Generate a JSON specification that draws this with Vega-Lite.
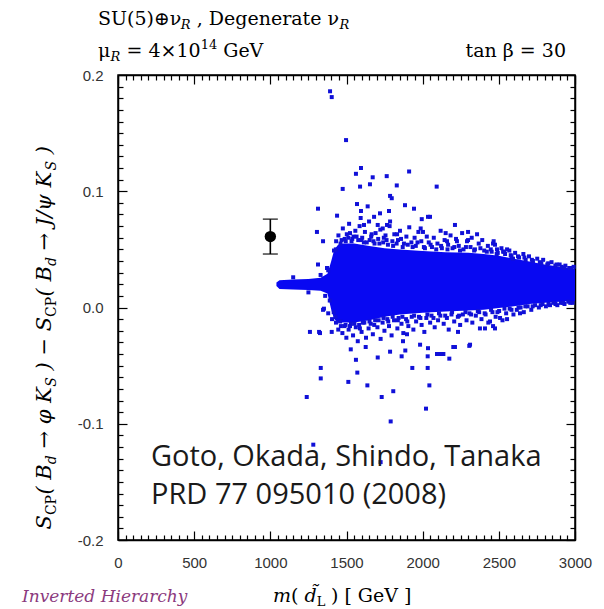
{
  "$schema": "https://vega.github.io/schema/vega-lite/v6.json",
  "width": 457,
  "height": 465,
  "autosize": {"type": "none"},
  "padding": {"left": 118, "top": 75, "right": 29, "bottom": 69},
  "background": "white",
  "config": {
    "view": {"stroke": "black", "strokeWidth": 1.5},
    "text": {"font": "DejaVu Serif", "fontSize": 19, "align": "left", "baseline": "alphabetic", "color": "black"}
  },
  "data": {"values": [{}]},
  "datasets": {
    "core": [
      {"m": 1040, "lo": 0.0185, "hi": 0.0215},
      {"m": 1060, "lo": 0.016, "hi": 0.0235},
      {"m": 1150, "lo": 0.0155, "hi": 0.024},
      {"m": 1250, "lo": 0.015, "hi": 0.0245},
      {"m": 1330, "lo": 0.0145, "hi": 0.0255},
      {"m": 1375, "lo": 0.012, "hi": 0.029},
      {"m": 1400, "lo": -0.002, "hi": 0.04},
      {"m": 1420, "lo": -0.01, "hi": 0.05},
      {"m": 1445, "lo": -0.013, "hi": 0.054},
      {"m": 1480, "lo": -0.013, "hi": 0.055},
      {"m": 1550, "lo": -0.013, "hi": 0.055},
      {"m": 1650, "lo": -0.011, "hi": 0.053},
      {"m": 1750, "lo": -0.008, "hi": 0.051},
      {"m": 1850, "lo": -0.006, "hi": 0.05},
      {"m": 2000, "lo": -0.0045, "hi": 0.0485},
      {"m": 2150, "lo": -0.0035, "hi": 0.0475},
      {"m": 2300, "lo": -0.0025, "hi": 0.047},
      {"m": 2400, "lo": -0.002, "hi": 0.046},
      {"m": 2500, "lo": -0.0005, "hi": 0.0445},
      {"m": 2600, "lo": 0.001, "hi": 0.042},
      {"m": 2700, "lo": 0.003, "hi": 0.0395},
      {"m": 2800, "lo": 0.004, "hi": 0.037},
      {"m": 2900, "lo": 0.005, "hi": 0.035},
      {"m": 3000, "lo": 0.0055, "hi": 0.033}
    ],
    "pts": [
      {"m": 1392, "s": 0.186}, {"m": 1403, "s": 0.181}, {"m": 1497, "s": 0.144}, {"m": 1562, "s": 0.115},
      {"m": 1595, "s": 0.12}, {"m": 1475, "s": 0.102}, {"m": 1589, "s": 0.104}, {"m": 1672, "s": 0.112},
      {"m": 1654, "s": 0.106}, {"m": 1764, "s": 0.113}, {"m": 1830, "s": 0.105}, {"m": 1911, "s": 0.117},
      {"m": 2092, "s": 0.104}, {"m": 1313, "s": 0.085}, {"m": 1438, "s": 0.079}, {"m": 1569, "s": 0.089},
      {"m": 1639, "s": 0.087}, {"m": 1786, "s": 0.096}, {"m": 1797, "s": 0.094}, {"m": 1595, "s": 0.083},
      {"m": 1593, "s": 0.077}, {"m": 1681, "s": 0.078}, {"m": 1720, "s": 0.081}, {"m": 1779, "s": 0.083},
      {"m": 1884, "s": 0.088}, {"m": 1943, "s": 0.085}, {"m": 2035, "s": 0.078}, {"m": 1994, "s": 0.076},
      {"m": 1615, "s": 0.071}, {"m": 1705, "s": 0.071}, {"m": 1738, "s": 0.068}, {"m": 1786, "s": 0.074},
      {"m": 1306, "s": 0.065}, {"m": 1523, "s": 0.064}, {"m": 1665, "s": 0.063}, {"m": 1987, "s": 0.068},
      {"m": 2151, "s": 0.064}, {"m": 2048, "s": 0.078}, {"m": 2212, "s": 0.071}, {"m": 2298, "s": 0.065},
      {"m": 2357, "s": 0.063}, {"m": 1766, "s": 0.071}, {"m": 1832, "s": 0.063}, {"m": 2002, "s": 0.065},
      {"m": 2160, "s": 0.057}, {"m": 2462, "s": 0.055}, {"m": 2488, "s": 0.05}, {"m": 2528, "s": 0.048},
      {"m": 2593, "s": 0.042}, {"m": 2225, "s": 0.057}, {"m": 2298, "s": 0.058}, {"m": 2475, "s": 0.054},
      {"m": 2554, "s": 0.05}, {"m": 1313, "s": 0.037}, {"m": 1372, "s": 0.034}, {"m": 1346, "s": 0.057},
      {"m": 1352, "s": -0.001}, {"m": 1260, "s": -0.021}, {"m": 1326, "s": -0.022}, {"m": 1403, "s": -0.021},
      {"m": 1528, "s": -0.036}, {"m": 1626, "s": -0.034}, {"m": 1786, "s": -0.038}, {"m": 1562, "s": -0.045},
      {"m": 1705, "s": -0.043}, {"m": 1862, "s": -0.042}, {"m": 1886, "s": -0.037}, {"m": 2033, "s": -0.042},
      {"m": 2136, "s": -0.04}, {"m": 2175, "s": -0.044}, {"m": 2201, "s": -0.034}, {"m": 2306, "s": -0.033},
      {"m": 1331, "s": -0.052}, {"m": 1331, "s": -0.061}, {"m": 1571, "s": -0.056}, {"m": 1512, "s": -0.064},
      {"m": 1637, "s": -0.067}, {"m": 1932, "s": -0.052}, {"m": 2033, "s": -0.052}, {"m": 2044, "s": -0.067},
      {"m": 1807, "s": -0.072}, {"m": 1731, "s": -0.077}, {"m": 1239, "s": -0.077}, {"m": 2022, "s": -0.087},
      {"m": 1790, "s": -0.098}, {"m": 1282, "s": -0.118}, {"m": 1724, "s": -0.133}, {"m": 1871, "s": -0.029},
      {"m": 2035, "s": -0.035}, {"m": 2114, "s": -0.04}, {"m": 2232, "s": -0.021}, {"m": 2376, "s": -0.018},
      {"m": 2462, "s": -0.016}, {"m": 2554, "s": -0.01}, {"m": 2639, "s": -0.005}, {"m": 2409, "s": -0.018},
      {"m": 2475, "s": -0.018}, {"m": 2442, "s": -0.012}, {"m": 2508, "s": -0.009}, {"m": 1897, "s": -0.023},
      {"m": 1983, "s": -0.032}, {"m": 2094, "s": -0.04}, {"m": 2212, "s": -0.034}, {"m": 2311, "s": -0.032},
      {"m": 1346, "s": -0.002}, {"m": 1380, "s": -0.005}, {"m": 1405, "s": -0.01}, {"m": 1320, "s": -0.021},
      {"m": 1150, "s": 0.026}, {"m": 1250, "s": 0.013}, {"m": 1330, "s": 0.028}, {"m": 1360, "s": 0.01},
      {"m": 1380, "s": 0.032}, {"m": 1390, "s": 0.006},
      {"m": 1418, "s": 0.049}, {"m": 1432, "s": 0.057}, {"m": 1447, "s": 0.062}, {"m": 1461, "s": 0.055},
      {"m": 1476, "s": 0.068}, {"m": 1488, "s": 0.059}, {"m": 1502, "s": 0.063}, {"m": 1517, "s": 0.072},
      {"m": 1533, "s": 0.057}, {"m": 1546, "s": 0.061}, {"m": 1558, "s": 0.066}, {"m": 1577, "s": 0.058},
      {"m": 1586, "s": 0.07}, {"m": 1603, "s": 0.06}, {"m": 1621, "s": 0.065}, {"m": 1633, "s": 0.056},
      {"m": 1648, "s": 0.074}, {"m": 1662, "s": 0.061}, {"m": 1677, "s": 0.057}, {"m": 1691, "s": 0.064},
      {"m": 1708, "s": 0.059}, {"m": 1722, "s": 0.067}, {"m": 1741, "s": 0.056}, {"m": 1756, "s": 0.062},
      {"m": 1763, "s": 0.058}, {"m": 1783, "s": 0.07}, {"m": 1801, "s": 0.057}, {"m": 1814, "s": 0.063},
      {"m": 1829, "s": 0.055}, {"m": 1851, "s": 0.066}, {"m": 1858, "s": 0.059}, {"m": 1877, "s": 0.055},
      {"m": 1893, "s": 0.061}, {"m": 1912, "s": 0.069}, {"m": 1926, "s": 0.056}, {"m": 1947, "s": 0.06},
      {"m": 1955, "s": 0.053}, {"m": 1972, "s": 0.065}, {"m": 1991, "s": 0.057}, {"m": 2008, "s": 0.052},
      {"m": 2027, "s": 0.061}, {"m": 2040, "s": 0.056}, {"m": 2061, "s": 0.052}, {"m": 2073, "s": 0.06},
      {"m": 2097, "s": 0.055}, {"m": 2118, "s": 0.066}, {"m": 2126, "s": 0.051}, {"m": 2144, "s": 0.058},
      {"m": 2167, "s": 0.054}, {"m": 2183, "s": 0.062}, {"m": 2196, "s": 0.051}, {"m": 2219, "s": 0.059},
      {"m": 2237, "s": 0.053}, {"m": 2259, "s": 0.064}, {"m": 2268, "s": 0.05}, {"m": 2291, "s": 0.057},
      {"m": 2314, "s": 0.052}, {"m": 2322, "s": 0.06}, {"m": 2343, "s": 0.05}, {"m": 2368, "s": 0.055},
      {"m": 2391, "s": 0.058}, {"m": 2404, "s": 0.049}, {"m": 2428, "s": 0.053}, {"m": 2453, "s": 0.048},
      {"m": 2466, "s": 0.057}, {"m": 2493, "s": 0.047}, {"m": 2517, "s": 0.051}, {"m": 2541, "s": 0.046},
      {"m": 2569, "s": 0.049}, {"m": 2583, "s": 0.044}, {"m": 2607, "s": 0.047}, {"m": 2633, "s": 0.043},
      {"m": 2661, "s": 0.046}, {"m": 2676, "s": 0.041}, {"m": 2698, "s": 0.044}, {"m": 2724, "s": 0.04},
      {"m": 2752, "s": 0.042}, {"m": 2779, "s": 0.038}, {"m": 2791, "s": 0.041}, {"m": 2818, "s": 0.037},
      {"m": 2846, "s": 0.039}, {"m": 2871, "s": 0.036}, {"m": 2899, "s": 0.037}, {"m": 2913, "s": 0.035},
      {"m": 2937, "s": 0.036}, {"m": 2962, "s": 0.034}, {"m": 2991, "s": 0.035},
      {"m": 1416, "s": -0.004}, {"m": 1431, "s": -0.013}, {"m": 1446, "s": -0.019}, {"m": 1458, "s": -0.012},
      {"m": 1473, "s": -0.022}, {"m": 1486, "s": -0.016}, {"m": 1499, "s": -0.026}, {"m": 1514, "s": -0.019},
      {"m": 1529, "s": -0.014}, {"m": 1543, "s": -0.024}, {"m": 1561, "s": -0.017}, {"m": 1574, "s": -0.029},
      {"m": 1583, "s": -0.015}, {"m": 1599, "s": -0.021}, {"m": 1617, "s": -0.013}, {"m": 1628, "s": -0.026},
      {"m": 1645, "s": -0.018}, {"m": 1659, "s": -0.014}, {"m": 1673, "s": -0.023}, {"m": 1688, "s": -0.011},
      {"m": 1703, "s": -0.017}, {"m": 1724, "s": -0.027}, {"m": 1737, "s": -0.013}, {"m": 1749, "s": -0.02},
      {"m": 1768, "s": -0.01}, {"m": 1779, "s": -0.016}, {"m": 1796, "s": -0.024}, {"m": 1812, "s": -0.011},
      {"m": 1834, "s": -0.018}, {"m": 1842, "s": -0.009}, {"m": 1861, "s": -0.014}, {"m": 1873, "s": -0.022},
      {"m": 1891, "s": -0.01}, {"m": 1906, "s": -0.016}, {"m": 1928, "s": -0.008}, {"m": 1939, "s": -0.019},
      {"m": 1957, "s": -0.012}, {"m": 1976, "s": -0.008}, {"m": 1993, "s": -0.015}, {"m": 2011, "s": -0.021},
      {"m": 2024, "s": -0.009}, {"m": 2049, "s": -0.013}, {"m": 2058, "s": -0.007}, {"m": 2079, "s": -0.017},
      {"m": 2101, "s": -0.011}, {"m": 2116, "s": -0.007}, {"m": 2138, "s": -0.014}, {"m": 2159, "s": -0.009},
      {"m": 2171, "s": -0.019}, {"m": 2189, "s": -0.006}, {"m": 2207, "s": -0.012}, {"m": 2231, "s": -0.008},
      {"m": 2246, "s": -0.015}, {"m": 2264, "s": -0.006}, {"m": 2288, "s": -0.011}, {"m": 2307, "s": -0.005},
      {"m": 2326, "s": -0.013}, {"m": 2349, "s": -0.007}, {"m": 2371, "s": -0.004}, {"m": 2386, "s": -0.01},
      {"m": 2413, "s": -0.006}, {"m": 2431, "s": -0.013}, {"m": 2458, "s": -0.004}, {"m": 2479, "s": -0.008},
      {"m": 2502, "s": -0.003}, {"m": 2524, "s": -0.011}, {"m": 2548, "s": -0.005}, {"m": 2571, "s": -0.001},
      {"m": 2596, "s": -0.006}, {"m": 2618, "s": -0.002}, {"m": 2643, "s": 0.0}, {"m": 2664, "s": -0.004},
      {"m": 2689, "s": 0.001}, {"m": 2713, "s": -0.002}, {"m": 2738, "s": 0.002}, {"m": 2763, "s": 0.0},
      {"m": 2787, "s": 0.003}, {"m": 2809, "s": 0.001}, {"m": 2836, "s": 0.002}, {"m": 2858, "s": 0.004},
      {"m": 2884, "s": 0.002}, {"m": 2907, "s": 0.004}, {"m": 2931, "s": 0.003}, {"m": 2956, "s": 0.005},
      {"m": 2984, "s": 0.004},
      {"m": 1430, "s": 0.05}, {"m": 1468, "s": 0.058}, {"m": 1495, "s": 0.057}, {"m": 1512, "s": 0.06},
      {"m": 1538, "s": 0.059}, {"m": 1566, "s": 0.061}, {"m": 1597, "s": 0.058}, {"m": 1614, "s": 0.056},
      {"m": 1652, "s": 0.058}, {"m": 1684, "s": 0.055}, {"m": 1716, "s": 0.055}, {"m": 1745, "s": 0.06},
      {"m": 1772, "s": 0.054}, {"m": 1806, "s": 0.053}, {"m": 1838, "s": 0.058}, {"m": 1869, "s": 0.052},
      {"m": 1902, "s": 0.054}, {"m": 1934, "s": 0.052}, {"m": 1966, "s": 0.056}, {"m": 2015, "s": 0.051},
      {"m": 2052, "s": 0.054}, {"m": 2089, "s": 0.05}, {"m": 2121, "s": 0.053}, {"m": 2163, "s": 0.05},
      {"m": 2208, "s": 0.052}, {"m": 2245, "s": 0.049}, {"m": 2284, "s": 0.052}, {"m": 2338, "s": 0.049},
      {"m": 2379, "s": 0.051}, {"m": 2421, "s": 0.048}, {"m": 2447, "s": 0.05}, {"m": 2486, "s": 0.046},
      {"m": 2535, "s": 0.048}, {"m": 2578, "s": 0.045}, {"m": 2626, "s": 0.044}, {"m": 2668, "s": 0.043},
      {"m": 2717, "s": 0.041}, {"m": 2769, "s": 0.039}, {"m": 2824, "s": 0.038}, {"m": 2879, "s": 0.037},
      {"m": 2928, "s": 0.034}, {"m": 2975, "s": 0.034},
      {"m": 1428, "s": -0.008}, {"m": 1463, "s": -0.016}, {"m": 1494, "s": -0.015}, {"m": 1523, "s": -0.016},
      {"m": 1552, "s": -0.014}, {"m": 1588, "s": -0.018}, {"m": 1607, "s": -0.013}, {"m": 1651, "s": -0.012},
      {"m": 1682, "s": -0.015}, {"m": 1711, "s": -0.011}, {"m": 1743, "s": -0.009}, {"m": 1774, "s": -0.012},
      {"m": 1803, "s": -0.008}, {"m": 1837, "s": -0.011}, {"m": 1867, "s": -0.008}, {"m": 1899, "s": -0.012},
      {"m": 1944, "s": -0.007}, {"m": 1985, "s": -0.009}, {"m": 2031, "s": -0.006}, {"m": 2071, "s": -0.009},
      {"m": 2107, "s": -0.005}, {"m": 2148, "s": -0.007}, {"m": 2193, "s": -0.004}, {"m": 2239, "s": -0.007},
      {"m": 2281, "s": -0.004}, {"m": 2318, "s": -0.006}, {"m": 2362, "s": -0.003}, {"m": 2407, "s": -0.005},
      {"m": 2449, "s": -0.002}, {"m": 2491, "s": -0.004}, {"m": 2537, "s": -0.001}, {"m": 2583, "s": -0.002},
      {"m": 2629, "s": 0.0}, {"m": 2674, "s": 0.001}, {"m": 2722, "s": 0.001}, {"m": 2775, "s": 0.002},
      {"m": 2826, "s": 0.003}, {"m": 2872, "s": 0.003}, {"m": 2921, "s": 0.004}, {"m": 2969, "s": 0.004}
    ],
    "obs": [{"m": 1000, "s": 0.061, "lo": 0.046, "hi": 0.076}]
  },
  "layer": [
    {
      "data": {"name": "core"},
      "mark": {"type": "area", "color": "#0808f2", "interpolate": "linear"},
      "encoding": {
        "x": {
          "field": "m", "type": "quantitative",
          "scale": {"domain": [0, 3000], "nice": false, "zero": false},
          "axis": {
            "orient": "bottom", "title": null, "grid": false, "format": "d",
            "values": [0,50,100,150,200,250,300,350,400,450,500,550,600,650,700,750,800,850,900,950,1000,1050,1100,1150,1200,1250,1300,1350,1400,1450,1500,1550,1600,1650,1700,1750,1800,1850,1900,1950,2000,2050,2100,2150,2200,2250,2300,2350,2400,2450,2500,2550,2600,2650,2700,2750,2800,2850,2900,2950,3000],
            "domainColor": "black", "domainWidth": 1.5,
            "tickColor": "black", "tickWidth": 1.2,
            "tickSize": {"condition": {"test": "datum.value % 500 === 0", "value": -9}, "value": -5},
            "labelExpr": "datum.value % 500 === 0 ? datum.label : ''",
            "labelPadding": 24, "labelFont": "Liberation Sans", "labelFontSize": 15,
            "labelColor": "#333333", "labelOverlap": false, "labelFlush": false
          }
        },
        "y": {
          "field": "lo", "type": "quantitative",
          "scale": {"domain": [-0.2, 0.2], "nice": false, "zero": false},
          "axis": {
            "orient": "left", "title": null, "grid": false, "format": ".1f",
            "values": [-0.2,-0.19,-0.18,-0.17,-0.16,-0.15,-0.14,-0.13,-0.12,-0.11,-0.1,-0.09,-0.08,-0.07,-0.06,-0.05,-0.04,-0.03,-0.02,-0.01,0,0.01,0.02,0.03,0.04,0.05,0.06,0.07,0.08,0.09,0.1,0.11,0.12,0.13,0.14,0.15,0.16,0.17,0.18,0.19,0.2],
            "domainColor": "black", "domainWidth": 1.5,
            "tickColor": "black", "tickWidth": 1.2,
            "tickSize": {"condition": {"test": "abs(round(datum.value * 100)) % 10 === 0", "value": -9}, "value": -5},
            "labelExpr": "abs(round(datum.value * 100)) % 10 === 0 ? replace(format(datum.value, '.1f'), '\u2212', '-') : ''",
            "labelPadding": 24, "labelFont": "Liberation Sans", "labelFontSize": 15,
            "labelColor": "#333333", "labelOverlap": false
          }
        },
        "y2": {"field": "hi"}
      }
    },
    {
      "data": {"name": "pts"},
      "mark": {"type": "square", "size": 16, "color": "#1010d8", "opacity": 1},
      "encoding": {
        "x": {"field": "m", "type": "quantitative", "scale": {"domain": [0, 3000], "nice": false, "zero": false}, "axis": null},
        "y": {"field": "s", "type": "quantitative", "scale": {"domain": [-0.2, 0.2], "nice": false, "zero": false}, "axis": null}
      }
    },
    {
      "data": {"name": "obs"},
      "mark": {"type": "rule", "color": "black", "strokeWidth": 1.6},
      "encoding": {
        "x": {
          "field": "m", "type": "quantitative",
          "scale": {"domain": [0, 3000], "nice": false, "zero": false},
          "axis": {
            "orient": "top", "title": null, "grid": false, "labels": false,
            "values": [0,50,100,150,200,250,300,350,400,450,500,550,600,650,700,750,800,850,900,950,1000,1050,1100,1150,1200,1250,1300,1350,1400,1450,1500,1550,1600,1650,1700,1750,1800,1850,1900,1950,2000,2050,2100,2150,2200,2250,2300,2350,2400,2450,2500,2550,2600,2650,2700,2750,2800,2850,2900,2950,3000],
            "domainColor": "black", "domainWidth": 1.5,
            "tickColor": "black", "tickWidth": 1.2,
            "tickSize": {"condition": {"test": "datum.value % 500 === 0", "value": -9}, "value": -5}
          }
        },
        "y": {
          "field": "lo", "type": "quantitative",
          "scale": {"domain": [-0.2, 0.2], "nice": false, "zero": false},
          "axis": {
            "orient": "right", "title": null, "grid": false, "labels": false,
            "values": [-0.2,-0.19,-0.18,-0.17,-0.16,-0.15,-0.14,-0.13,-0.12,-0.11,-0.1,-0.09,-0.08,-0.07,-0.06,-0.05,-0.04,-0.03,-0.02,-0.01,0,0.01,0.02,0.03,0.04,0.05,0.06,0.07,0.08,0.09,0.1,0.11,0.12,0.13,0.14,0.15,0.16,0.17,0.18,0.19,0.2],
            "domainColor": "black", "domainWidth": 1.5,
            "tickColor": "black", "tickWidth": 1.2,
            "tickSize": {"condition": {"test": "abs(round(datum.value * 100)) % 10 === 0", "value": -9}, "value": -5}
          }
        },
        "y2": {"field": "hi"}
      }
    },
    {
      "data": {"name": "obs"},
      "mark": {"type": "tick", "orient": "horizontal", "color": "black", "size": 15, "thickness": 1.6},
      "encoding": {
        "x": {"field": "m", "type": "quantitative", "scale": {"domain": [0, 3000], "nice": false, "zero": false}, "axis": null},
        "y": {"field": "lo", "type": "quantitative", "scale": {"domain": [-0.2, 0.2], "nice": false, "zero": false}, "axis": null}
      }
    },
    {
      "data": {"name": "obs"},
      "mark": {"type": "tick", "orient": "horizontal", "color": "black", "size": 15, "thickness": 1.6},
      "encoding": {
        "x": {"field": "m", "type": "quantitative", "scale": {"domain": [0, 3000], "nice": false, "zero": false}, "axis": null},
        "y": {"field": "hi", "type": "quantitative", "scale": {"domain": [-0.2, 0.2], "nice": false, "zero": false}, "axis": null}
      }
    },
    {
      "data": {"name": "obs"},
      "mark": {"type": "circle", "color": "black", "size": 130, "opacity": 1},
      "encoding": {
        "x": {"field": "m", "type": "quantitative", "scale": {"domain": [0, 3000], "nice": false, "zero": false}, "axis": null},
        "y": {"field": "s", "type": "quantitative", "scale": {"domain": [-0.2, 0.2], "nice": false, "zero": false}, "axis": null}
      }
    },
    {
      "mark": {"type": "text", "font": "Open Sans", "fontSize": 29, "color": "#1a1a1a"},
      "encoding": {
        "x": {"datum": 216.6, "type": "quantitative", "scale": {"domain": [0, 3000], "nice": false, "zero": false}, "axis": null},
        "y": {"datum": -0.13677, "type": "quantitative", "scale": {"domain": [-0.2, 0.2], "nice": false, "zero": false}, "axis": null},
        "text": {"value": "Goto, Okada, Shindo, Tanaka"}
      }
    },
    {
      "mark": {"type": "text", "font": "Open Sans", "fontSize": 29, "color": "#1a1a1a"},
      "encoding": {
        "x": {"datum": 216.6, "type": "quantitative", "scale": {"domain": [0, 3000], "nice": false, "zero": false}, "axis": null},
        "y": {"datum": -0.16946, "type": "quantitative", "scale": {"domain": [-0.2, 0.2], "nice": false, "zero": false}, "axis": null},
        "text": {"value": "PRD 77 095010 (2008)"}
      }
    },
    {
      "mark": {"type": "text"},
      "encoding": {
        "x": {"datum": -131.3, "type": "quantitative", "scale": {"domain": [0, 3000], "nice": false, "zero": false}, "axis": null},
        "y": {"datum": 0.24344, "type": "quantitative", "scale": {"domain": [-0.2, 0.2], "nice": false, "zero": false}, "axis": null},
        "text": {"value": "SU(5)⊕ν"}
      }
    },
    {
      "mark": {"type": "text", "fontSize": 13, "fontStyle": "italic", "dy": 4},
      "encoding": {
        "x": {"datum": 411.6, "type": "quantitative", "scale": {"domain": [0, 3000], "nice": false, "zero": false}, "axis": null},
        "y": {"datum": 0.24344, "type": "quantitative", "scale": {"domain": [-0.2, 0.2], "nice": false, "zero": false}, "axis": null},
        "text": {"value": "R"}
      }
    },
    {
      "mark": {"type": "text"},
      "encoding": {
        "x": {"datum": 516.7, "type": "quantitative", "scale": {"domain": [0, 3000], "nice": false, "zero": false}, "axis": null},
        "y": {"datum": 0.24344, "type": "quantitative", "scale": {"domain": [-0.2, 0.2], "nice": false, "zero": false}, "axis": null},
        "text": {"value": ", Degenerate ν"}
      }
    },
    {
      "mark": {"type": "text", "fontSize": 13, "fontStyle": "italic", "dy": 4},
      "encoding": {
        "x": {"datum": 1453.5, "type": "quantitative", "scale": {"domain": [0, 3000], "nice": false, "zero": false}, "axis": null},
        "y": {"datum": 0.24344, "type": "quantitative", "scale": {"domain": [-0.2, 0.2], "nice": false, "zero": false}, "axis": null},
        "text": {"value": "R"}
      }
    },
    {
      "mark": {"type": "text"},
      "encoding": {
        "x": {"datum": -131.3, "type": "quantitative", "scale": {"domain": [0, 3000], "nice": false, "zero": false}, "axis": null},
        "y": {"datum": 0.21591, "type": "quantitative", "scale": {"domain": [-0.2, 0.2], "nice": false, "zero": false}, "axis": null},
        "text": {"value": "μ"}
      }
    },
    {
      "mark": {"type": "text", "fontSize": 13, "fontStyle": "italic", "dy": 4},
      "encoding": {
        "x": {"datum": -49.2, "type": "quantitative", "scale": {"domain": [0, 3000], "nice": false, "zero": false}, "axis": null},
        "y": {"datum": 0.21591, "type": "quantitative", "scale": {"domain": [-0.2, 0.2], "nice": false, "zero": false}, "axis": null},
        "text": {"value": "R"}
      }
    },
    {
      "mark": {"type": "text"},
      "encoding": {
        "x": {"datum": 55.8, "type": "quantitative", "scale": {"domain": [0, 3000], "nice": false, "zero": false}, "axis": null},
        "y": {"datum": 0.21591, "type": "quantitative", "scale": {"domain": [-0.2, 0.2], "nice": false, "zero": false}, "axis": null},
        "text": {"value": "= 4×10"}
      }
    },
    {
      "mark": {"type": "text", "fontSize": 13, "dy": -8},
      "encoding": {
        "x": {"datum": 543, "type": "quantitative", "scale": {"domain": [0, 3000], "nice": false, "zero": false}, "axis": null},
        "y": {"datum": 0.21591, "type": "quantitative", "scale": {"domain": [-0.2, 0.2], "nice": false, "zero": false}, "axis": null},
        "text": {"value": "14"}
      }
    },
    {
      "mark": {"type": "text"},
      "encoding": {
        "x": {"datum": 690.6, "type": "quantitative", "scale": {"domain": [0, 3000], "nice": false, "zero": false}, "axis": null},
        "y": {"datum": 0.21591, "type": "quantitative", "scale": {"domain": [-0.2, 0.2], "nice": false, "zero": false}, "axis": null},
        "text": {"value": "GeV"}
      }
    },
    {
      "mark": {"type": "text", "align": "right"},
      "encoding": {
        "x": {"datum": 2941, "type": "quantitative", "scale": {"domain": [0, 3000], "nice": false, "zero": false}, "axis": null},
        "y": {"datum": 0.21591, "type": "quantitative", "scale": {"domain": [-0.2, 0.2], "nice": false, "zero": false}, "axis": null},
        "text": {"value": "tan β = 30"}
      }
    },
    {
      "mark": {"type": "text", "fontStyle": "italic", "fontSize": 17, "color": "#8b3a7e"},
      "encoding": {
        "x": {"datum": -630.2, "type": "quantitative", "scale": {"domain": [0, 3000], "nice": false, "zero": false}, "axis": null},
        "y": {"datum": -0.25376, "type": "quantitative", "scale": {"domain": [-0.2, 0.2], "nice": false, "zero": false}, "axis": null},
        "text": {"value": "Inverted Hierarchy"}
      }
    },
    {
      "mark": {"type": "text", "fontStyle": "italic"},
      "encoding": {
        "x": {"datum": 1017.6, "type": "quantitative", "scale": {"domain": [0, 3000], "nice": false, "zero": false}, "axis": null},
        "y": {"datum": -0.25376, "type": "quantitative", "scale": {"domain": [-0.2, 0.2], "nice": false, "zero": false}, "axis": null},
        "text": {"value": "m"}
      }
    },
    {
      "mark": {"type": "text"},
      "encoding": {
        "x": {"datum": 1135.7, "type": "quantitative", "scale": {"domain": [0, 3000], "nice": false, "zero": false}, "axis": null},
        "y": {"datum": -0.25376, "type": "quantitative", "scale": {"domain": [-0.2, 0.2], "nice": false, "zero": false}, "axis": null},
        "text": {"value": "("}
      }
    },
    {
      "mark": {"type": "text", "fontStyle": "italic"},
      "encoding": {
        "x": {"datum": 1224.4, "type": "quantitative", "scale": {"domain": [0, 3000], "nice": false, "zero": false}, "axis": null},
        "y": {"datum": -0.25376, "type": "quantitative", "scale": {"domain": [-0.2, 0.2], "nice": false, "zero": false}, "axis": null},
        "text": {"value": "d\u0303"}
      }
    },
    {
      "mark": {"type": "text", "fontSize": 13, "dy": 4},
      "encoding": {
        "x": {"datum": 1304.5, "type": "quantitative", "scale": {"domain": [0, 3000], "nice": false, "zero": false}, "axis": null},
        "y": {"datum": -0.25376, "type": "quantitative", "scale": {"domain": [-0.2, 0.2], "nice": false, "zero": false}, "axis": null},
        "text": {"value": "L"}
      }
    },
    {
      "mark": {"type": "text"},
      "encoding": {
        "x": {"datum": 1398, "type": "quantitative", "scale": {"domain": [0, 3000], "nice": false, "zero": false}, "axis": null},
        "y": {"datum": -0.25376, "type": "quantitative", "scale": {"domain": [-0.2, 0.2], "nice": false, "zero": false}, "axis": null},
        "text": {"value": ") [ GeV ]"}
      }
    },
    {
      "mark": {"type": "text", "angle": 270, "fontStyle": "italic", "fontSize": 21},
      "encoding": {
        "x": {"datum": -440, "type": "quantitative", "scale": {"domain": [0, 3000], "nice": false, "zero": false}, "axis": null},
        "y": {"datum": -0.19097, "type": "quantitative", "scale": {"domain": [-0.2, 0.2], "nice": false, "zero": false}, "axis": null},
        "text": {"value": "S"}
      }
    },
    {
      "mark": {"type": "text", "angle": 270, "fontSize": 14, "dy": 5},
      "encoding": {
        "x": {"datum": -440, "type": "quantitative", "scale": {"domain": [0, 3000], "nice": false, "zero": false}, "axis": null},
        "y": {"datum": -0.17858, "type": "quantitative", "scale": {"domain": [-0.2, 0.2], "nice": false, "zero": false}, "axis": null},
        "text": {"value": "CP"}
      }
    },
    {
      "mark": {"type": "text", "angle": 270, "fontStyle": "italic", "fontSize": 21},
      "encoding": {
        "x": {"datum": -440, "type": "quantitative", "scale": {"domain": [0, 3000], "nice": false, "zero": false}, "axis": null},
        "y": {"datum": -0.16095, "type": "quantitative", "scale": {"domain": [-0.2, 0.2], "nice": false, "zero": false}, "axis": null},
        "text": {"value": "( B"}
      }
    },
    {
      "mark": {"type": "text", "angle": 270, "fontStyle": "italic", "fontSize": 14, "dy": 5},
      "encoding": {
        "x": {"datum": -440, "type": "quantitative", "scale": {"domain": [0, 3000], "nice": false, "zero": false}, "axis": null},
        "y": {"datum": -0.13488, "type": "quantitative", "scale": {"domain": [-0.2, 0.2], "nice": false, "zero": false}, "axis": null},
        "text": {"value": "d"}
      }
    },
    {
      "mark": {"type": "text", "angle": 270, "fontStyle": "italic", "fontSize": 21},
      "encoding": {
        "x": {"datum": -440, "type": "quantitative", "scale": {"domain": [0, 3000], "nice": false, "zero": false}, "axis": null},
        "y": {"datum": -0.12138, "type": "quantitative", "scale": {"domain": [-0.2, 0.2], "nice": false, "zero": false}, "axis": null},
        "text": {"value": "→ φ K"}
      }
    },
    {
      "mark": {"type": "text", "angle": 270, "fontStyle": "italic", "fontSize": 14, "dy": 5},
      "encoding": {
        "x": {"datum": -440, "type": "quantitative", "scale": {"domain": [0, 3000], "nice": false, "zero": false}, "axis": null},
        "y": {"datum": -0.06813, "type": "quantitative", "scale": {"domain": [-0.2, 0.2], "nice": false, "zero": false}, "axis": null},
        "text": {"value": "S"}
      }
    },
    {
      "mark": {"type": "text", "angle": 270, "fontStyle": "italic", "fontSize": 21},
      "encoding": {
        "x": {"datum": -440, "type": "quantitative", "scale": {"domain": [0, 3000], "nice": false, "zero": false}, "axis": null},
        "y": {"datum": -0.05411, "type": "quantitative", "scale": {"domain": [-0.2, 0.2], "nice": false, "zero": false}, "axis": null},
        "text": {"value": ") − S"}
      }
    },
    {
      "mark": {"type": "text", "angle": 270, "fontSize": 14, "dy": 5},
      "encoding": {
        "x": {"datum": -440, "type": "quantitative", "scale": {"domain": [0, 3000], "nice": false, "zero": false}, "axis": null},
        "y": {"datum": -0.00809, "type": "quantitative", "scale": {"domain": [-0.2, 0.2], "nice": false, "zero": false}, "axis": null},
        "text": {"value": "CP"}
      }
    },
    {
      "mark": {"type": "text", "angle": 270, "fontStyle": "italic", "fontSize": 21},
      "encoding": {
        "x": {"datum": -440, "type": "quantitative", "scale": {"domain": [0, 3000], "nice": false, "zero": false}, "axis": null},
        "y": {"datum": 0.00955, "type": "quantitative", "scale": {"domain": [-0.2, 0.2], "nice": false, "zero": false}, "axis": null},
        "text": {"value": "( B"}
      }
    },
    {
      "mark": {"type": "text", "angle": 270, "fontStyle": "italic", "fontSize": 14, "dy": 5},
      "encoding": {
        "x": {"datum": -440, "type": "quantitative", "scale": {"domain": [0, 3000], "nice": false, "zero": false}, "axis": null},
        "y": {"datum": 0.03561, "type": "quantitative", "scale": {"domain": [-0.2, 0.2], "nice": false, "zero": false}, "axis": null},
        "text": {"value": "d"}
      }
    },
    {
      "mark": {"type": "text", "angle": 270, "fontStyle": "italic", "fontSize": 21},
      "encoding": {
        "x": {"datum": -440, "type": "quantitative", "scale": {"domain": [0, 3000], "nice": false, "zero": false}, "axis": null},
        "y": {"datum": 0.04912, "type": "quantitative", "scale": {"domain": [-0.2, 0.2], "nice": false, "zero": false}, "axis": null},
        "text": {"value": "→ J/ψ K"}
      }
    },
    {
      "mark": {"type": "text", "angle": 270, "fontStyle": "italic", "fontSize": 14, "dy": 5},
      "encoding": {
        "x": {"datum": -440, "type": "quantitative", "scale": {"domain": [0, 3000], "nice": false, "zero": false}, "axis": null},
        "y": {"datum": 0.11785, "type": "quantitative", "scale": {"domain": [-0.2, 0.2], "nice": false, "zero": false}, "axis": null},
        "text": {"value": "S"}
      }
    },
    {
      "mark": {"type": "text", "angle": 270, "fontStyle": "italic", "fontSize": 21},
      "encoding": {
        "x": {"datum": -440, "type": "quantitative", "scale": {"domain": [0, 3000], "nice": false, "zero": false}, "axis": null},
        "y": {"datum": 0.13187, "type": "quantitative", "scale": {"domain": [-0.2, 0.2], "nice": false, "zero": false}, "axis": null},
        "text": {"value": ")"}
      }
    }
  ],
  "resolve": {"axis": {"x": "independent", "y": "independent"}}
}
